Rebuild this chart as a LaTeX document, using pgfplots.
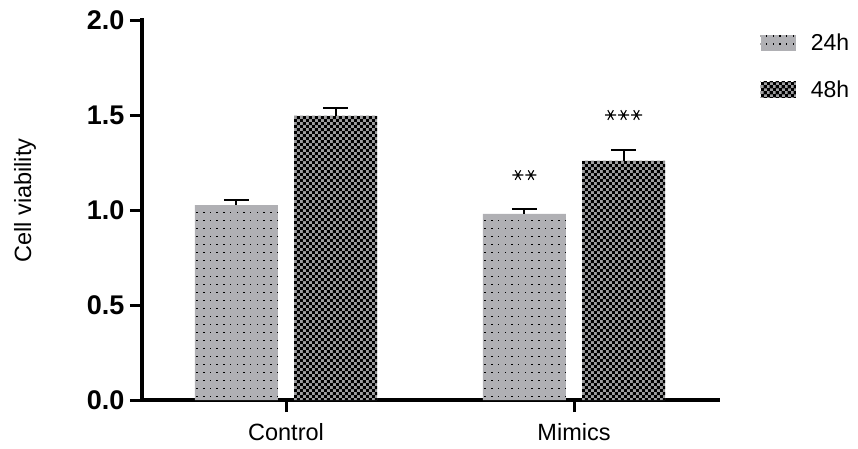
\documentclass[border=0pt]{standalone}
\usepackage{pgfplots}
\pgfplotsset{compat=1.18}
\usepackage{fontspec}
\setmainfont{Liberation Sans}
\usetikzlibrary{patterns}
\definecolor{cA}{RGB}{176,176,180}
\definecolor{cB}{RGB}{158,158,160}
\pgfdeclarepatternformonly{dotsp}{\pgfqpoint{-1pt}{-1pt}}{\pgfqpoint{8pt}{9pt}}{\pgfqpoint{6.7pt}{8pt}}{%
  \pgfpathrectangle{\pgfqpoint{2pt}{3pt}}{\pgfqpoint{1.5pt}{1.5pt}}\pgfusepath{fill}}
\pgfdeclarepatternformonly{checker}{\pgfqpoint{0pt}{0pt}}{\pgfqpoint{6.4pt}{6.4pt}}{\pgfqpoint{6.4pt}{6.4pt}}{%
  \pgfpathrectangle{\pgfqpoint{0pt}{0pt}}{\pgfqpoint{3.2pt}{3.2pt}}%
  \pgfpathrectangle{\pgfqpoint{3.2pt}{3.2pt}}{\pgfqpoint{3.2pt}{3.2pt}}\pgfusepath{fill}}
\begin{document}
\begin{tikzpicture}
\useasboundingbox (-142pt,-48pt) rectangle (716pt,400pt);
\begin{axis}[
  at={(0pt,0pt)}, anchor=south west,
  scale only axis, width=576pt, height=380pt,
  xmin=-0.5, xmax=1.5, ymin=0, ymax=2,
  axis x line*=bottom, axis y line*=left,
  axis line style={-, line width=3.2pt, line cap=rect},
  every outer x axis line/.append style={line width=3.2pt},
  every outer y axis line/.append style={line width=3.2pt},
  xtick={0,1}, xticklabels={Control,Mimics},
  ytick={0,0.5,1,1.5,2},
  tick align=outside, major tick length=12pt,
  tick style={line width=3pt, black},
  yticklabel style={font=\fontsize{27}{30}\selectfont\bfseries, xshift=-2pt},
  xticklabel style={font=\fontsize{23.5}{26}\selectfont, yshift=-8pt},
  /pgf/number format/.cd, fixed, fixed zerofill, precision=1, assume math mode=true, /pgfplots/.cd,
  ylabel={Cell viability},
  every axis y label/.style={at={(axis description cs:-0.203,0.525)}, rotate=90, anchor=center, font=\fontsize{23.5}{26}\selectfont},
  clip=false,
  legend style={draw=none, fill=none, at={(axis description cs:1.074,0.97)}, anchor=north west,
    font=\fontsize{23}{26}\selectfont, row sep=25pt, column sep=13pt, inner sep=0pt,
    nodes={inner sep=2pt}},
  legend cell align=left,
  error bars/error bar style={line width=2pt, black},
  error bars/error mark options={rotate=90, mark size=12.5pt, line width=2pt, black},
]
\addplot[ybar, bar width=0.288, bar shift=0, draw=none, fill=cA,
  postaction={pattern=dotsp},
  error bars/.cd, y dir=plus, y explicit,
  /pgfplots/.cd,
  legend image code/.code={\fill[cA] (0pt,-8pt) rectangle (35pt,8pt); \fill[pattern=dotsp] (0pt,-8pt) rectangle (35pt,8pt);}]
  coordinates {(-0.172,1.026) +- (0,0.027) (0.828,0.979) +- (0,0.026)};
\addlegendentry{24h}
\addplot[ybar, bar width=0.288, bar shift=0, draw=none, fill=cB,
  postaction={pattern=checker},
  error bars/.cd, y dir=plus, y explicit,
  /pgfplots/.cd,
  legend image code/.code={\fill[cB] (0pt,-8pt) rectangle (35pt,8pt); \fill[pattern=checker] (0pt,-8pt) rectangle (35pt,8pt);}]
  coordinates {(0.172,1.496) +- (0,0.042) (1.172,1.259) +- (0,0.055)};
\addlegendentry{48h}
\addplot[only marks, mark=asterisk, mark size=5.5pt, mark options={rotate=90, line width=1.1pt, black}, forget plot]
  coordinates {(0.8054,1.184) (0.8506,1.184) (1.127,1.5) (1.172,1.5) (1.217,1.5)};
\end{axis}
\end{tikzpicture}
\end{document}
